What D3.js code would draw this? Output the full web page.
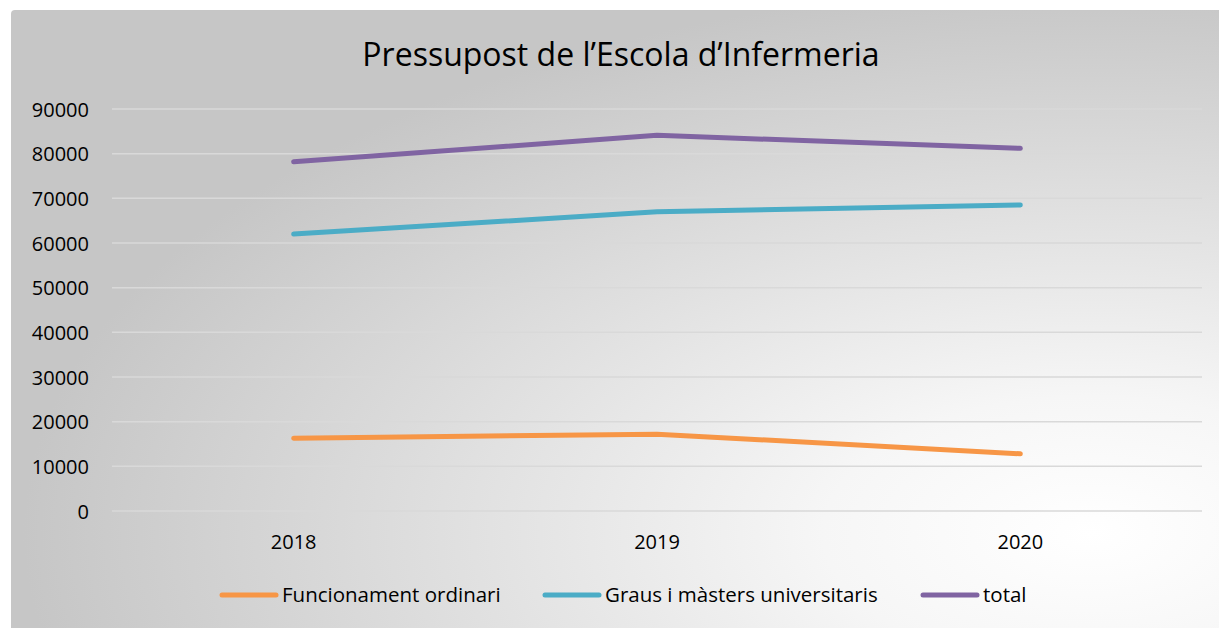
<!DOCTYPE html>
<html>
<head>
<meta charset="utf-8">
<script src="https://cdn.jsdelivr.net/npm/d3@7"></script>
<style>
  body { margin: 0; background: #fff; }
  svg { display: block; }
</style>
</head>
<body>
<div id="chart"></div>
<script>
var w = 1219;
var h = 628;

// data
var years = ["2018", "2019", "2020"];
var funcionament = [16300, 17200, 12800];
var graus = [62000, 67000, 68500];
var total = [78200, 84100, 81200];
var yTicks = [0, 10000, 20000, 30000, 40000, 50000, 60000, 70000, 80000, 90000];

var seriesNames = ["Funcionament ordinari", "Graus i màsters universitaris", "total"];
var seriesColors = ["#F79646", "#4BACC6", "#8064A2"];
var seriesValues = [funcionament, graus, total];

var font = "'Open Sans', 'Noto Sans', sans-serif";

var svg = d3.select("#chart").append("svg")
  .attr("width", w)
  .attr("height", h);

// background gradient
var defs = svg.append("defs");
var grad = defs.append("radialGradient")
  .attr("id", "bg")
  .attr("cx", 0.89).attr("cy", 0.84).attr("r", 0.88);
grad.append("stop").attr("offset", 0).attr("stop-color", "#ffffff");
grad.append("stop").attr("offset", 0.25).attr("stop-color", "#f6f6f6");
grad.append("stop").attr("offset", 1).attr("stop-color", "#c6c6c6");

svg.append("rect")
  .attr("x", 11).attr("y", 10)
  .attr("width", w - 11 + 5).attr("height", h - 10 + 5)
  .attr("rx", 4)
  .attr("fill", "url(#bg)");

var plotLeft = 112, plotRight = 1202, plotTop = 109, plotBottom = 511;

var x = d3.scaleBand()
  .domain(years)
  .range([plotLeft, plotRight]);

var y = d3.scaleLinear()
  .domain([0, 90000])
  .range([plotBottom, plotTop]);

// grid lines
svg.append("g")
  .selectAll("line")
  .data(yTicks)
  .enter()
  .append("line")
  .attr("x1", plotLeft)
  .attr("x2", plotRight)
  .attr("y1", function(d) { return y(d); })
  .attr("y2", function(d) { return y(d); })
  .attr("stroke", "#d9d9d9")
  .attr("stroke-width", 1.5);

// y axis labels
var yAxis = d3.axisLeft(y).tickValues(yTicks).tickSize(0).tickPadding(0)
  .tickFormat(function(d) { return d; });
var ya = svg.append("g")
  .attr("transform", "translate(89,0)")
  .call(yAxis);
ya.select(".domain").remove();
ya.selectAll("text")
  .attr("font-family", font)
  .attr("font-size", 20)
  .attr("fill", "#000")
  .attr("dy", "0.36em");

// x axis labels
var xAxis = d3.axisBottom(x).tickSize(0).tickPadding(0);
var xa = svg.append("g")
  .attr("transform", "translate(0,535)")
  .call(xAxis);
xa.select(".domain").remove();
xa.selectAll("text")
  .attr("font-family", font)
  .attr("font-size", 20)
  .attr("fill", "#000");

// lines
var line = d3.line()
  .x(function(d, i) { return x(years[i]) + x.bandwidth() / 2; })
  .y(function(d) { return y(d); });

svg.append("g")
  .selectAll("path")
  .data(seriesValues)
  .enter()
  .append("path")
  .attr("d", line)
  .attr("fill", "none")
  .attr("stroke", function(d, i) { return seriesColors[i]; })
  .attr("stroke-width", 5)
  .attr("stroke-linecap", "round")
  .attr("stroke-linejoin", "round");

// title
svg.append("text")
  .text("Pressupost de l\u2019Escola d\u2019Infermeria")
  .attr("x", 621)
  .attr("y", 66)
  .attr("text-anchor", "middle")
  .attr("font-family", font)
  .attr("font-size", 32)
  .attr("fill", "#000");

// legend
var legendX = [222, 545, 923];
var legend = svg.append("g")
  .selectAll("g")
  .data(seriesNames)
  .enter()
  .append("g")
  .attr("transform", function(d, i) { return "translate(" + legendX[i] + ",595)"; });

legend.append("line")
  .attr("x1", 0).attr("x2", 54)
  .attr("y1", 0).attr("y2", 0)
  .attr("stroke", function(d, i) { return seriesColors[i]; })
  .attr("stroke-width", 5)
  .attr("stroke-linecap", "round");

legend.append("text")
  .text(function(d) { return d; })
  .attr("x", 60)
  .attr("y", 0)
  .attr("dy", "0.36em")
  .attr("font-family", font)
  .attr("font-size", 20.5)
  .attr("fill", "#000");
</script>
</body>
</html>
